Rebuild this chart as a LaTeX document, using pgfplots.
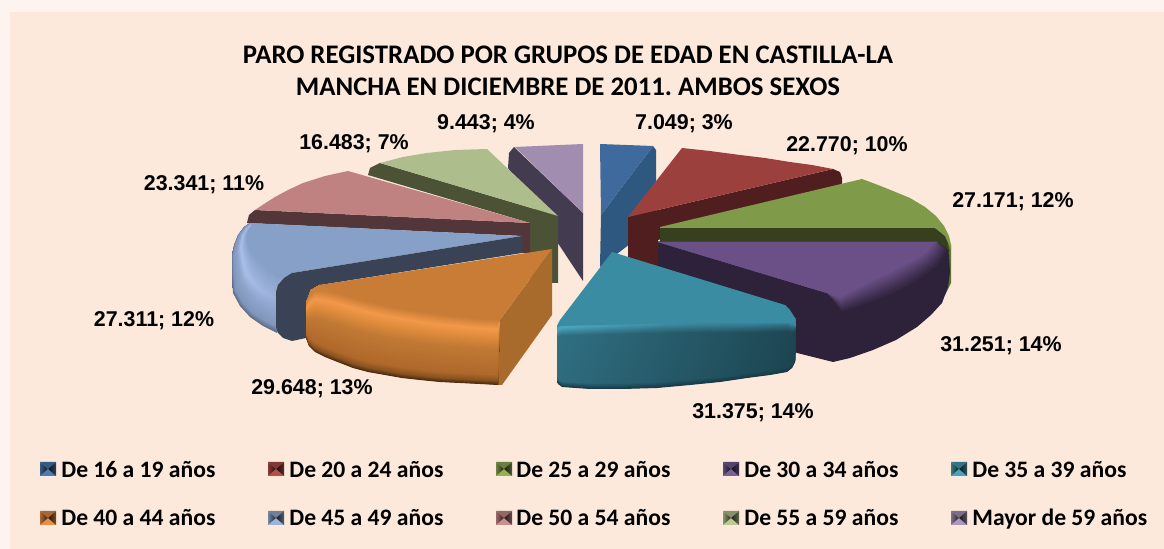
\documentclass[border=0pt]{standalone}
\usepackage{fontspec}
\setmainfont{Carlito}
\newfontfamily\arialb{Liberation Sans}[BoldFont={Liberation Sans Bold}]
\usepackage{pgfplots}
\usepackage{pgfplotstable}
\pgfplotsset{compat=1.18}
\frenchspacing

% colours
\definecolor{outerbg}{HTML}{FDF3EF}
\definecolor{panel}{HTML}{FCE9DC}
\definecolor{cA}{HTML}{4F81BD}
\definecolor{cB}{HTML}{C0504D}
\definecolor{cC}{HTML}{9BBB59}
\definecolor{cD}{HTML}{8064A2}
\definecolor{cE}{HTML}{4BACC6}
\definecolor{cF}{HTML}{F79646}
\definecolor{cG}{HTML}{A4BCE6}
\definecolor{cH}{HTML}{D99694}
\definecolor{cI}{HTML}{C3D69B}
\definecolor{cJ}{HTML}{B3A2C7}
% orange ribbon stops
\definecolor{or0}{HTML}{4A2A10}
\definecolor{or1}{HTML}{8A5420}
\definecolor{or2}{HTML}{B0692B}
\definecolor{or3}{HTML}{C27A35}
\definecolor{or4}{HTML}{E08C3C}
\definecolor{or5}{HTML}{F2994A}
\definecolor{or6}{HTML}{C87C35}
% teal ribbon stops, left and right end
\definecolor{teL0}{HTML}{173A46}
\definecolor{teR0}{HTML}{173A46}
\definecolor{teL1}{HTML}{2E6B7D}
\definecolor{teR1}{HTML}{1C4450}
\definecolor{teL2}{HTML}{2F7083}
\definecolor{teR2}{HTML}{1E4652}
\definecolor{teL3}{HTML}{4FA9C3}
\definecolor{teR3}{HTML}{2E6C7E}
\definecolor{teL4}{HTML}{3A8CA3}
\definecolor{teR4}{HTML}{3A8CA3}
% light blue stops
\definecolor{lb0}{HTML}{5F6E88}
\definecolor{lb1}{HTML}{8297BC}
\definecolor{lb2}{HTML}{8FA5CC}
\definecolor{lb3}{HTML}{A9C0EA}
\definecolor{lb4}{HTML}{86A0C8}
% purple bevel stops
\definecolor{pu0}{HTML}{2D2239}
\definecolor{pu1}{HTML}{6A5086}
% faces
\definecolor{grayTop}{HTML}{A08DB0}
\definecolor{graySide}{HTML}{433B4F}
\definecolor{blueTop}{HTML}{3E6A9E}
\definecolor{blueSide}{HTML}{2F5880}
\definecolor{olTop}{HTML}{ADBD8B}
\definecolor{olSide}{HTML}{4C5236}
\definecolor{piTop}{HTML}{C08280}
\definecolor{piSide}{HTML}{52363A}
\definecolor{reTop}{HTML}{9C403D}
\definecolor{reSide}{HTML}{501E1E}
\definecolor{grTop}{HTML}{7F9A48}
\definecolor{grSide}{HTML}{37401E}
\definecolor{grRim}{HTML}{5E7530}
\definecolor{lbSide}{HTML}{3A4355}
\definecolor{orCut}{HTML}{A86B2C}

% ring outlines: each point runs from (x0,y0) at t=0 to (x1,y1) at t=1
\pgfplotstableread{
x0 y0 x1 y1
306 338 306 303
309 346 309 296
315 352 315 290
325 357 325 291
335 361 335 293
353 368 353 298
368 372 368 302
385 375 385 306
402 378 402 309
420 380 420 312
440 382 440 315
460 383 460 317
480 384 480 319
498 385 498 320
500 320 500 320
335 293 335 293
320 285 320 285
311 290 311 290
306 303 306 303
}\tblOrange
\pgfplotstableread{
x0 y0 x1 y1
557 326 557 326
557 380 557 328
558 384 558 325
562 387 562 323
590 389 590 322
623 389 623 321
657 388 657 320
690 385 690 320
720 382 720 321
747 378 747 322
770 375 770 322
787 372 787 322
792 368 792 324
795 362 795 325
796 330 796 325
795 318 795 318
600 310 600 310
}\tblTeal
\pgfplotstableread{
x0 y0 x1 y1
250 223 252 226
244 227 249 230
238 235 247 235
234 245 247 241
232 255 248 246
232 275 252 254
233 293 257 260
240 306 263 265
250 317 270 271
263 326 281 275
277 333 292 275
300 250 300 250
270 225 270 225
}\tblLight
\pgfplotstableread{
x0 y0 x1 y1
658 242 658 242
937 242 937 242
949 250 933 244
945 258 928 251
938 268 920 257
923 279 907 264
903 291 890 273
880 301 870 282
860 308 855 290
842 313 840 298
827 293 827 293
}\tblPurple

% one nested outline of a ring, at position #2
\newcommand\band[4]{\addplot[draw=none,left color=#3,right color=#4] table[x expr=\thisrow{x0}+#2*(\thisrow{x1}-\thisrow{x0}),y expr=\thisrow{y0}+#2*(\thisrow{y1}-\thisrow{y0})] {#1};}
% table, t from, t to, left from, left to, right from, right to
\newcommand\ramp[7]{%
  \foreach \k in {0,1,2,3,4,5,6,7,8,9}{%
    \pgfmathsetmacro\tval{#2+(#3-#2)*\k/10}%
    \pgfmathtruncatemacro\pct{10*\k}%
    \edef\tmp{\noexpand\band{\noexpand#1}{\tval}{#5!\pct!#4}{#7!\pct!#6}}%
    \tmp
  }%
}
\newcommand\poly[2]{\addplot[fill=#1,draw=none] coordinates {#2};}

% legend key, four triangles
\pgfplotstableread{
x y
0 0
16 0
8 7
}\keyTop
\pgfplotstableread{
x y
0 14
16 14
8 7
}\keyBot
\pgfplotstableread{
x y
0 0
0 14
8 7
}\keyLeft
\pgfplotstableread{
x y
16 0
16 14
8 7
}\keyRight
\newcommand\legkey[3]{%
  \addplot[fill=#3!68!black,draw=none] table[x expr=\thisrow{x}+#1,y expr=\thisrow{y}+#2] {\keyTop};
  \addplot[fill=#3!95!black,draw=none] table[x expr=\thisrow{x}+#1,y expr=\thisrow{y}+#2] {\keyBot};
  \addplot[draw=none,left color=#3!70!black,right color=#3!20!black] table[x expr=\thisrow{x}+#1,y expr=\thisrow{y}+#2] {\keyLeft};
  \addplot[draw=none,left color=#3!15!black,right color=#3!50!black] table[x expr=\thisrow{x}+#1,y expr=\thisrow{y}+#2] {\keyRight};
}
\newcommand\legtext[3]{\node[anchor=base west,inner sep=0pt,font=\fontsize{11.8}{13}\selectfont\bfseries] at (axis cs:#1,#2) {#3};}
\newcommand\vlabel[3]{\node[inner sep=0pt,font=\arialb\fontsize{10.7}{12}\selectfont\bfseries] at (axis cs:#1,#2) {#3};}

\begin{document}
\begin{tikzpicture}
\begin{axis}[
    scale only axis,
    width=582pt,
    height=274.5pt,
    xmin=0, xmax=1164,
    ymin=0, ymax=549,
    y dir=reverse,
    hide axis,
    clip=false,
    no marks,
]
% background
\poly{outerbg}{(0,0) (1164,0) (1164,549) (0,549)}
\poly{panel}{(10,12) (1164,12) (1164,549) (10,549)}

% Mayor de 59
\poly{graySide}{(514,147) (509,153) (508,168) (583,281) (583,213)}
\poly{grayTop}{(515,147) (583,144) (583,213)}
% De 16 a 19
\poly{blueSide}{(653,146) (656,150) (656,224) (600,267) (601,215)}
\poly{blueTop}{(600,144) (653,146) (601,215)}
% De 55 a 59
\poly{olSide}{(380,163) (370,168) (368,175) (530,223) (530,283) (558,283) (558,216)}
\poly{olTop}{(558,216) (487,149) (455,150) (427,153) (403,157) (380,163)}
% De 50 a 54
\poly{piSide}{(530,223) (255,210) (249,215) (247,223) (522,236) (522,253) (530,253)}
\poly{piTop}{(530,223) (348,171) (325,176) (303,183) (288,190) (275,197) (264,204) (255,210)}
% De 20 a 24
\poly{reSide}{(628,217) (833,169) (840,172) (842,178) (842,186) (658,240) (658,268) (628,257)}
\poly{reTop}{(682,148) (710,151) (740,155) (765,158) (790,162) (812,165) (833,169) (628,217)}
% De 25 a 29
\poly{grRim}{(940,228) (947,234) (951,245) (951,283) (945,295) (900,260)}
\poly{grSide}{(660,227) (935,228) (943,232) (948,240) (949,255) (660,242)}
\poly{grTop}{(660,227) (862,179) (878,185) (893,191) (910,198) (925,207) (936,216) (944,226) (949,236) (951,245) (951,250) (945,236) (935,228) (660,228)}
% De 30 a 34
\poly{pu0}{(658,242) (937,242) (949,255) (950,272) (948,287) (942,303) (931,315) (917,327) (896,340) (873,350) (850,358) (833,362) (797,353) (658,268)}
\ramp{\tblPurple}{0}{1}{pu0}{pu1}{pu0}{pu1}
\poly{pu1}{(658,242) (937,242) (933,244) (928,251) (920,257) (907,264) (890,273) (870,282) (855,290) (840,298) (827,293)}
% De 45 a 49
\ramp{\tblLight}{0}{0.1}{lb0}{lb1}{lb0}{lb1}
\ramp{\tblLight}{0.1}{0.35}{lb1}{lb2}{lb1}{lb2}
\ramp{\tblLight}{0.35}{0.55}{lb2}{lb3}{lb2}{lb2}
\ramp{\tblLight}{0.55}{1}{lb3}{lb4}{lb2}{lb4}
\poly{lb4}{(522,236) (250,223) (252,226) (249,230) (247,235) (247,241) (248,246) (252,254) (257,260) (263,265) (270,271) (277,278) (292,273)}
\poly{lbSide}{(522,236) (522,253) (320,285) (306,303) (306,338) (292,341) (283,338) (278,333) (276,327) (276,292) (278,285) (284,278) (292,273)}
% De 40 a 44
\poly{orCut}{(500,320) (552,249) (552,315) (502,385) (498,385)}
\ramp{\tblOrange}{0}{0.06}{or0}{or1}{or0}{or1}
\ramp{\tblOrange}{0.06}{0.15}{or1}{or2}{or1}{or2}
\ramp{\tblOrange}{0.15}{0.55}{or2}{or3}{or2}{or3}
\ramp{\tblOrange}{0.55}{0.72}{or3}{or4}{or3}{or4}
\ramp{\tblOrange}{0.72}{0.85}{or4}{or5}{or4}{or5}
\ramp{\tblOrange}{0.85}{1}{or5}{or6}{or5}{or6}
\poly{or6}{(552,249) (500,320) (480,319) (460,317) (440,315) (420,312) (402,309) (385,306) (368,302) (353,298) (335,293) (320,285)}
% De 35 a 39
\ramp{\tblTeal}{0}{0.08}{teL0}{teL1}{teR0}{teR1}
\ramp{\tblTeal}{0.08}{0.8}{teL1}{teL2}{teR1}{teR2}
\ramp{\tblTeal}{0.8}{0.93}{teL2}{teL3}{teR2}{teR3}
\ramp{\tblTeal}{0.93}{1}{teL3}{teL4}{teR3}{teR4}
\poly{teL4}{(612,252) (785,305) (790,310) (795,318) (795,323) (673,323) (557,326) (560,320)}

% title
\node[align=center,font=\fontsize{13.4}{16}\selectfont\bfseries] at (axis cs:568,71) {PARO REGISTRADO POR GRUPOS DE EDAD EN CASTILLA-LA\\MANCHA EN DICIEMBRE DE 2011. AMBOS SEXOS};

% value labels
\vlabel{684}{124}{7.049; 3\%}
\vlabel{847}{146}{22.770; 10\%}
\vlabel{1013}{202}{27.171; 12\%}
\vlabel{1001}{346}{31.251; 14\%}
\vlabel{753}{413}{31.375; 14\%}
\vlabel{312}{389}{29.648; 13\%}
\vlabel{154}{321}{27.311; 12\%}
\vlabel{204}{185}{23.341; 11\%}
\vlabel{354}{144}{16.483; 7\%}
\vlabel{486}{124}{9.443; 4\%}

% legend
\legkey{40}{462}{cA}\legtext{61}{478}{De 16 a 19 años}
\legkey{268}{462}{cB}\legtext{289}{478}{De 20 a 24 años}
\legkey{496}{462}{cC}\legtext{516}{478}{De 25 a 29 años}
\legkey{723}{462}{cD}\legtext{744}{478}{De 30 a 34 años}
\legkey{951}{462}{cE}\legtext{972}{478}{De 35 a 39 años}
\legkey{40}{511}{cF}\legtext{61}{526}{De 40 a 44 años}
\legkey{268}{511}{cG}\legtext{289}{526}{De 45 a 49 años}
\legkey{496}{511}{cH}\legtext{516}{526}{De 50 a 54 años}
\legkey{723}{511}{cI}\legtext{744}{526}{De 55 a 59 años}
\legkey{951}{511}{cJ}\legtext{972}{526}{Mayor de 59 años}
\end{axis}
\end{tikzpicture}
\end{document}
